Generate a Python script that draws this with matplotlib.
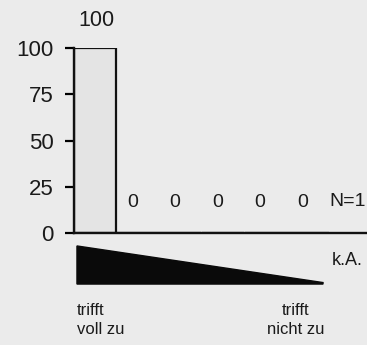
import matplotlib.pyplot as plt
from matplotlib.patches import Polygon

categories = ["1", "2", "3", "4", "5", "6"]
values = [100, 0, 0, 0, 0, 0]
yticks = [0, 25, 50, 75, 100]
n_label = "N=1"
na_label = "k.A."
left_label = "trifft\nvoll zu"
right_label = "trifft\nnicht zu"

plt.rcParams["font.family"] = ["Liberation Sans", "DejaVu Sans"]

fig = plt.figure(figsize=(3.67, 3.45), dpi=100)
fig.patch.set_facecolor("#ebebeb")
ax = fig.add_axes([0.2016, 0.3246, 0.798, 0.536])
ax.set_facecolor("#ebebeb")

x = list(range(len(categories)))
ax.bar(x, values, width=0.985, color="#e4e4e4", edgecolor="#111111", linewidth=1.6)

for xi, v in zip(x, values):
    if v > 0:
        ax.annotate(str(v), (xi, v), xytext=(1, 12), textcoords="offset points",
                    ha="center", va="bottom", fontsize=15.5, color="#1a1a1a")
    else:
        ax.annotate(str(v), (xi, v), xytext=(-4, 16), textcoords="offset points",
                    ha="center", va="bottom", fontsize=14, color="#1a1a1a")

ax.text(5.5, 16.8, n_label, ha="left", va="center", fontsize=14, color="#1a1a1a")
ax.text(5.55, -14.6, na_label, ha="left", va="center", fontsize=13, color="#1a1a1a", clip_on=False)

# black wedge under the axis
wedge = Polygon([(-0.43, -7.0), (5.35, -26.8), (5.35, -27.6), (-0.43, -27.6)],
                closed=True, color="#0a0a0a", clip_on=False)
ax.add_patch(wedge)

ax.text(-0.43, -38, left_label, ha="left", va="top", fontsize=12, color="#1a1a1a",
        linespacing=1.3, clip_on=False)
ax.text(4.7, -38, right_label, ha="center", va="top", fontsize=12, color="#1a1a1a",
        linespacing=1.3, clip_on=False)

ax.set_xlim(-0.5, 6.38)
ax.set_ylim(0, 100)
ax.set_yticks(yticks)
ax.set_xticks([])
ax.tick_params(axis="y", length=6.5, width=1.6, pad=8, labelsize=16, labelcolor="#1a1a1a")
for s in ["top", "right"]:
    ax.spines[s].set_visible(False)
for s in ["left", "bottom"]:
    ax.spines[s].set_linewidth(1.7)
    ax.spines[s].set_color("#111111")

fig.savefig("out.png", dpi=100, facecolor=fig.get_facecolor())
